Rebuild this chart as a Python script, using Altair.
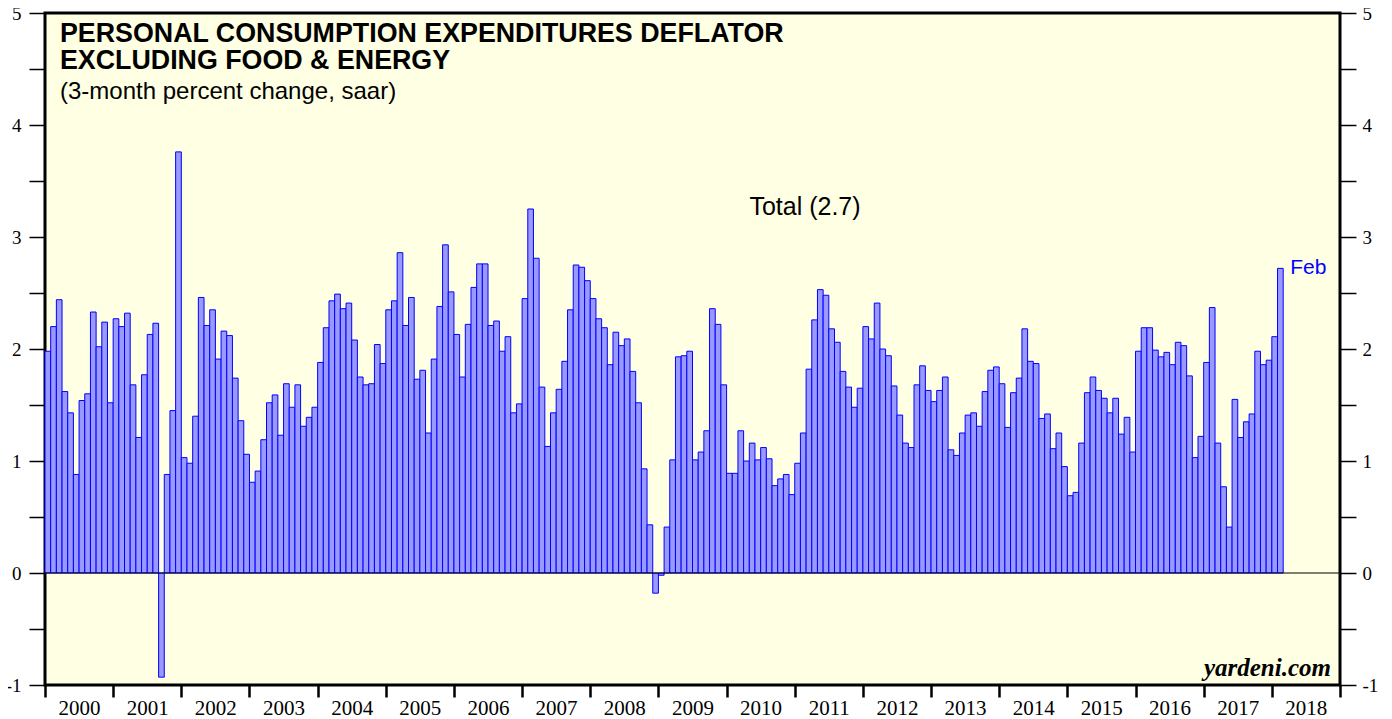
import altair as alt
import pandas as pd

# Monthly values (3-month % change, saar), Jan 2000 .. Feb 2018
v2000 = [1.98, 2.20, 2.44, 1.62, 1.43, 0.88, 1.54, 1.60, 2.33, 2.02, 2.24, 1.52]
v2001 = [2.27, 2.20, 2.32, 1.68, 1.21, 1.77, 2.13, 2.23, -0.93, 0.88, 1.45, 3.76]
v2002 = [1.03, 0.98, 1.40, 2.46, 2.21, 2.35, 1.91, 2.16, 2.12, 1.74, 1.36, 1.06]
v2003 = [0.81, 0.91, 1.19, 1.52, 1.59, 1.23, 1.69, 1.48, 1.68, 1.31, 1.39, 1.48]
v2004 = [1.88, 2.19, 2.43, 2.49, 2.36, 2.41, 2.08, 1.75, 1.68, 1.69, 2.04, 1.87]
v2005 = [2.35, 2.43, 2.86, 2.21, 2.46, 1.73, 1.81, 1.25, 1.91, 2.38, 2.93, 2.51]
v2006 = [2.13, 1.75, 2.22, 2.55, 2.76, 2.76, 2.21, 2.25, 1.98, 2.11, 1.43, 1.51]
v2007 = [2.45, 3.25, 2.81, 1.66, 1.13, 1.43, 1.64, 1.89, 2.35, 2.75, 2.73, 2.61]
v2008 = [2.45, 2.27, 2.19, 1.86, 2.15, 2.03, 2.09, 1.80, 1.52, 0.93, 0.43, -0.18]
v2009 = [-0.02, 0.41, 1.01, 1.93, 1.94, 1.98, 1.01, 1.08, 1.27, 2.36, 2.22, 1.68]
v2010 = [0.89, 0.89, 1.27, 1.00, 1.16, 1.01, 1.12, 1.02, 0.78, 0.84, 0.88, 0.70]
v2011 = [0.98, 1.25, 1.82, 2.26, 2.53, 2.48, 2.18, 2.06, 1.80, 1.66, 1.48, 1.65]
v2012 = [2.20, 2.09, 2.41, 2.00, 1.94, 1.67, 1.41, 1.16, 1.12, 1.68, 1.85, 1.63]
v2013 = [1.53, 1.63, 1.75, 1.10, 1.05, 1.25, 1.41, 1.43, 1.31, 1.62, 1.81, 1.84]
v2014 = [1.69, 1.30, 1.61, 1.74, 2.18, 1.89, 1.87, 1.38, 1.42, 1.11, 1.25, 0.95]
v2015 = [0.69, 0.72, 1.16, 1.61, 1.75, 1.63, 1.56, 1.43, 1.56, 1.24, 1.39, 1.08]
v2016 = [1.98, 2.19, 2.19, 1.99, 1.93, 1.97, 1.86, 2.06, 2.03, 1.76, 1.03, 1.22]
v2017 = [1.88, 2.37, 1.16, 0.77, 0.41, 1.55, 1.21, 1.35, 1.42, 1.98, 1.86, 1.90]
v2018 = [2.11, 2.72]

years = list(range(2000, 2019))
series = [v2000, v2001, v2002, v2003, v2004, v2005, v2006, v2007, v2008, v2009,
          v2010, v2011, v2012, v2013, v2014, v2015, v2016, v2017, v2018]

title1 = "PERSONAL CONSUMPTION EXPENDITURES DEFLATOR"
title2 = "EXCLUDING FOOD & ENERGY"
subtitle = "(3-month percent change, saar)"
total_label = "Total (2.7)"
last_label = "Feb"
credit = "yardeni.com"

rows = []
for yr, vals in zip(years, series):
    for m, v in enumerate(vals):
        i = (yr - 2000) * 12 + m
        rows.append({"i": i, "i2": i + 1, "v": v})
df = pd.DataFrame(rows)
last = df.iloc[[-1]]

W, H = 1295, 672
XMAX = 19 * 12
xs = alt.Scale(domain=[0, XMAX], nice=False, zero=False)
ys = alt.Scale(domain=[-1, 5], nice=False, zero=False)
ytick_vals = [-1 + 0.5 * k for k in range(13)]
lab_expr = "datum.value % 1 == 0 ? toString(datum.value) : ''"

x_axis = alt.Axis(
    values=list(range(0, XMAX + 1, 12)),
    labelExpr="datum.value < %d ? toString(2000 + datum.value / 12) : ''" % XMAX,
    labelOffset=34, tickSize=12, tickWidth=2.5, tickColor="black",
    labelFont="Liberation Serif", labelFontSize=21, labelColor="black",
    labelPadding=0, domain=False, grid=False, title=None, labelFlush=False,
    labelOverlap=False,
)
y_left = alt.Axis(
    orient="left", values=ytick_vals, labelExpr=lab_expr, tickSize=16,
    tickWidth=1.5, tickColor="black", labelFont="Liberation Serif",
    labelFontSize=19, labelColor="black", labelPadding=8, domain=False,
    grid=False, title=None,
)
y_right = alt.Axis(
    orient="right", values=ytick_vals, labelExpr=lab_expr, tickSize=16,
    tickWidth=1.5, tickColor="black", labelFont="Liberation Serif",
    labelFontSize=19, labelColor="black", labelPadding=6, domain=False,
    grid=False, title=None,
)

bars = alt.Chart(df).mark_rect(fill="#9999FF", stroke="#0000FF", strokeWidth=1).encode(
    x=alt.X("i:Q", scale=xs, axis=x_axis),
    x2="i2:Q",
    y=alt.Y("v:Q", scale=ys, axis=y_left),
    y2=alt.datum(0),
)

zero = alt.Chart(pd.DataFrame({"z": [0]})).mark_rule(color="black", strokeWidth=1).encode(
    y=alt.Y("z:Q", scale=ys, axis=y_right)
)


def label(text, **kw):
    return alt.Chart(pd.DataFrame({"t": [text]})).mark_text(**kw).encode(text="t:N")


t1 = label(title1, font="Liberation Sans", fontSize=26.8, fontWeight="bold", align="left",
           baseline="alphabetic", color="black").encode(x=alt.value(15), y=alt.value(29))
t2 = label(title2, font="Liberation Sans", fontSize=26.8, fontWeight="bold", align="left",
           baseline="alphabetic", color="black").encode(x=alt.value(15), y=alt.value(56))
t3 = label(subtitle, font="Liberation Sans", fontSize=24, align="left",
           baseline="alphabetic", color="black").encode(x=alt.value(15), y=alt.value(86))
t4 = label(total_label, font="Liberation Sans", fontSize=25, align="center",
           baseline="middle", color="black").encode(x=alt.value(760), y=alt.value(194))
t5 = label(credit, font="Liberation Serif", fontSize=25, fontWeight="bold", fontStyle="italic",
           align="right", baseline="alphabetic", color="black").encode(x=alt.value(1286), y=alt.value(663))

feb = alt.Chart(last).mark_text(font="Liberation Sans", fontSize=21, align="left",
                                baseline="middle", color="#0000FF", dx=7).encode(
    x=alt.X("i2:Q", scale=xs, axis=x_axis),
    y=alt.Y("v:Q", scale=ys, axis=None),
    text=alt.value(last_label),
)

chart = alt.layer(bars, zero, feb, t1, t2, t3, t4, t5).resolve_axis(
    y="independent"
).resolve_scale(y="shared").properties(
    width=W, height=H,
    background="white",
    autosize=alt.AutoSizeParams(type="none"),
    padding={"left": 37, "top": 5, "right": 44, "bottom": 34},
).configure_view(
    fill="#FFFFE3", stroke="black", strokeWidth=3
)

chart.save("out.html", embed_options={"renderer": "svg", "actions": False})
